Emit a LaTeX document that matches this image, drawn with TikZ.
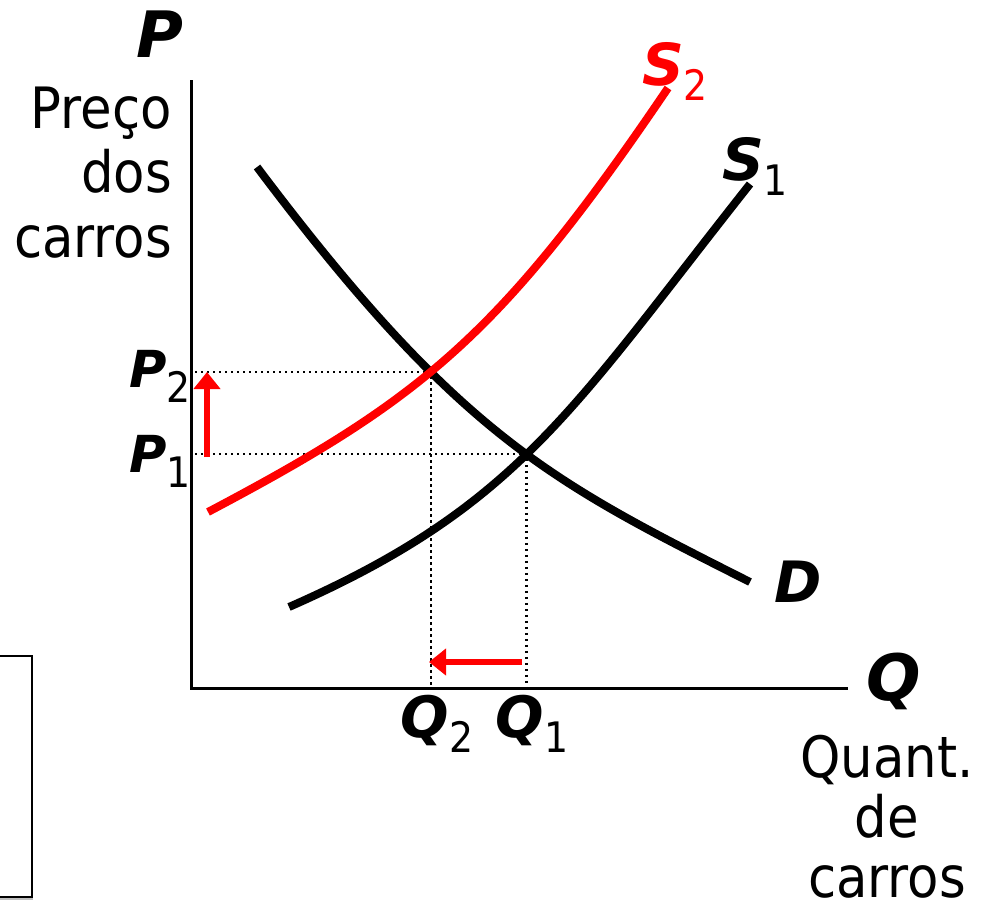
\documentclass[tikz,border=0pt]{standalone}
\usepackage{fontspec}
\setmainfont{DejaVu Sans Condensed}
\newfontfamily\lblfont{DejaVu Sans}
\usetikzlibrary{arrows.meta,intersections}
\newcommand{\sublbl}[2]{#1\raisebox{-15pt}{\normalfont\fontsize{42}{42}\selectfont #2}}
\begin{document}
\begin{tikzpicture}[x=1pt,y=-1pt,
  axis/.style={line width=3pt},
  curve/.style={line width=8pt},
  guide/.style={line width=2.2pt, dash pattern=on 2.2pt off 3.8pt},
  shiftarrow/.style={red, line width=6pt, -{Triangle[width=26pt,length=17pt]}},
  ttl/.style={inner sep=0pt, font=\fontsize{57}{64.5}\selectfont},
  lbl/.style={inner sep=0pt, font=\lblfont\bfseries\itshape\fontsize{#1}{#1}\selectfont},
  lbl/.default=51]
\useasboundingbox (0,0) rectangle (983,916);
% box at lower left
\draw[gray!50, line width=1.5pt] (-5,899) -- (33,899);
\draw[line width=2.2pt] (-5,656) rectangle (32,897);
% axes
\coordinate (O) at (191,688);
\coordinate (ytop) at (191,80);
\coordinate (xend) at (848,688);
% curve paths
\path[name path=Dp] (257,167) .. controls (460,437) and (552,482) .. (750,582);
\path[name path=S1p] (289,607) .. controls (519,506) and (572,409) .. (750,184);
\path[name path=S2p] (208,512) .. controls (422,399) and (500,336) .. (668,88);
\path[name intersections={of=Dp and S2p, by=E2}];
\path[name intersections={of=Dp and S1p, by=E1}];
% guides
\draw[guide] (E2 -| 195,0) -- (E2) -- (E2 |- O);
\draw[guide] (E1 -| 195,0) -- (E1) -- (E1 |- O);
\draw[axis] (ytop) -- (O) -- (xend);
% curves
\draw[curve] (257,167) .. controls (460,437) and (552,482) .. (750,582);
\draw[curve] (289,607) .. controls (519,506) and (572,409) .. (750,184);
\draw[curve, red] (208,512) .. controls (422,399) and (500,336) .. (668,88);
% shift arrows
\coordinate (up0) at (207,457);
\coordinate (up1) at (207,372);
\draw[shiftarrow] (up0) -- (up1);
\coordinate (lf0) at (522,662);
\coordinate (lf1) at (429,662);
\draw[shiftarrow] (lf0) -- (lf1);
% labels
\node[lbl=64, anchor=base] (Ptop) at (160,57) {P};
\node[ttl, align=right, anchor=base east] (ylab) at (172,257) {Preço\\dos\\carros};
\node[lbl, anchor=base] (P2) at (160,387) {\sublbl{P}{2}};
\node[lbl, anchor=base] (P1) at (160,472) {\sublbl{P}{1}};
\node[lbl=57, anchor=base] (Q2) at (437,737) {\sublbl{Q}{2}};
\node[lbl=57, anchor=base] (Q1) at (532,737) {\sublbl{Q}{1}};
\node[lbl=58, anchor=base, text=red] (S2) at (675,85) {\sublbl{S}{2}};
\node[lbl=58, anchor=base] (S1) at (755,180) {\sublbl{S}{1}};
\node[lbl=57, anchor=base] (D) at (798,602) {D};
\node[lbl=64, anchor=base] (Q) at (894,700) {Q};
\node[ttl, align=center, anchor=base, font=\fontsize{57}{60}\selectfont] (xlab) at (887,897) {Quant.\\de\\carros};
\end{tikzpicture}
\end{document}
